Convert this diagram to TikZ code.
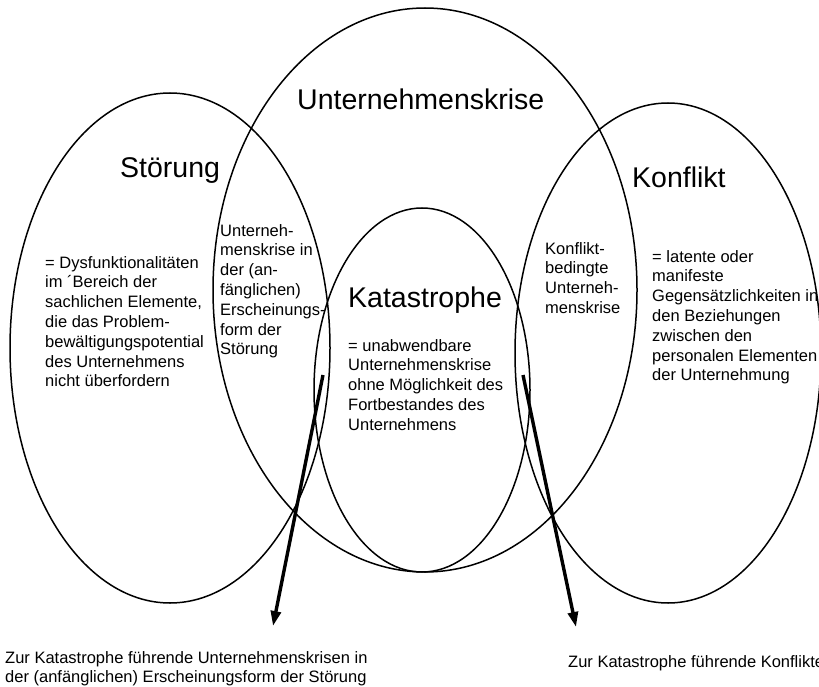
\documentclass[tikz,border=0pt]{standalone}
\usepackage{fontspec}
\setmainfont{Liberation Sans}
\usetikzlibrary{shapes.geometric, arrows.meta}

\begin{document}
\begin{tikzpicture}[x=1pt, y=-1pt,
        kreis/.style={ellipse, draw, line width=1.5pt, inner sep=0pt},
        titel/.style={font=\fontsize{28.5}{34}\selectfont, anchor=base west, inner sep=0pt},
        erkl/.style={font=\fontsize{16.5}{19.8}\selectfont, align=left, anchor=north west, inner sep=0pt},
        pfeil/.style={line width=3.4pt, -{Triangle[length=15pt, width=10pt]}}]
        \useasboundingbox (0,0) rectangle (819,687);

        % Ellipsen
        \node[kreis, minimum width=320pt, minimum height=510pt] (stoerung) at (170,348) {};
        \node[kreis, minimum width=424pt, minimum height=564pt] (krise) at (425,290) {};
        \node[kreis, minimum width=216pt, minimum height=364pt] (katastrophe) at (422,390) {};
        \node[kreis, minimum width=306pt, minimum height=500pt] (konflikt) at (668,353) {};

        % Ueberschriften
        \node[titel] (tkrise) at (297,110) {Unternehmenskrise};
        \node[titel] (tstoerung) at (120,178) {Störung};
        \node[titel] (tkonflikt) at (632,188) {Konflikt};
        \node[titel] (tkatastrophe) at (348,307) {Katastrophe};

        % Erklaerungen
        \node[erkl] (dstoerung) at (45,256) {= Dysfunktionalitäten\\im ´Bereich der\\sachlichen Elemente,\\die das Problem-\\bewältigungspotential\\des Unternehmens\\nicht überfordern};
        \node[erkl] (dfrueh) at (220,224) {Unterneh-\\menskrise in\\der (an-\\fänglichen)\\Erscheinungs-\\form der\\Störung};
        \node[erkl] (dkatastrophe) at (348,339) {= unabwendbare\\Unternehmenskrise\\ohne Möglichkeit des\\Fortbestandes des\\Unternehmens};
        \node[erkl] (dbedingt) at (545,242) {Konflikt-\\bedingte\\Unterneh-\\menskrise};
        \node[erkl] (dkonflikt) at (652,250) {= latente oder\\manifeste\\Gegensätzlichkeiten in\\den Beziehungen\\zwischen den\\personalen Elementen\\der Unternehmung};

        % Folgen
        \node[erkl] (fstoerung) at (5,651) {Zur Katastrophe führende Unternehmenskrisen in\\der (anfänglichen) Erscheinungsform der Störung};
        \node[erkl] (fkonflikt) at (568,655) {Zur Katastrophe führende Konflikte};

        \coordinate (p1start) at (323,375);
        \coordinate (p1ende) at (273,626);
        \coordinate (p2start) at (523,375);
        \coordinate (p2ende) at (576,627);
        \draw[pfeil] (p1start) -- (p1ende);
        \draw[pfeil] (p2start) -- (p2ende);
\end{tikzpicture}
\end{document}
